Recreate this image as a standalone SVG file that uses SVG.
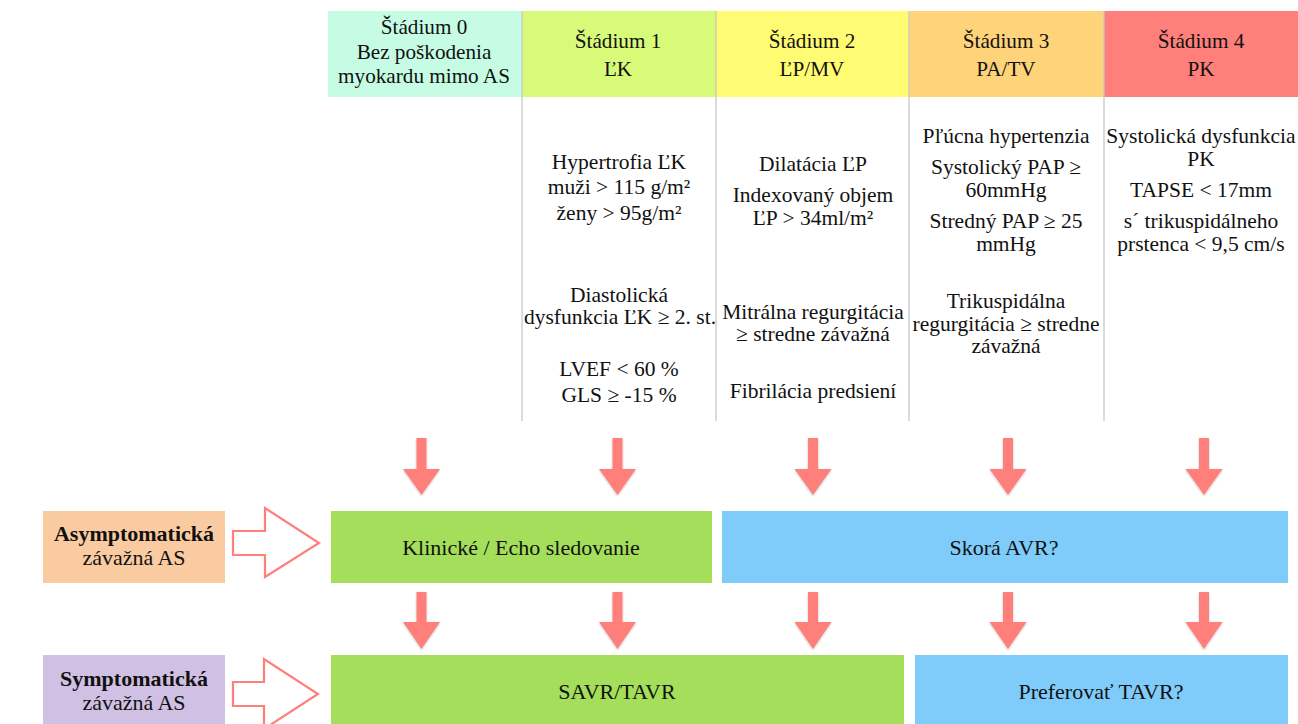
<svg xmlns="http://www.w3.org/2000/svg" width="1298" height="724" viewBox="0 0 1298 724">
<defs>
<style>
text{font-family:"Liberation Serif","Times New Roman",serif;fill:#111;text-anchor:middle}
.h{font-size:21.2px}
.b{font-size:21.5px}
.x{font-size:22px}
.bold{font-weight:bold}
.grid{stroke:#c8c8c8;stroke-width:1.3;fill:none}
.arr{fill:#FF7F7A}
.hollow{fill:#fff;stroke:#FF7F7A;stroke-width:2.2;stroke-linejoin:miter}
</style>
<filter id="sh" x="-50%" y="-20%" width="200%" height="150%">
<feGaussianBlur in="SourceAlpha" stdDeviation="1"/>
<feOffset dy="1" result="o"/>
<feComponentTransfer><feFuncA type="linear" slope="0.25"/></feComponentTransfer>
<feMerge><feMergeNode/><feMergeNode in="SourceGraphic"/></feMerge>
</filter>
</defs>
<rect width="1298" height="724" fill="#fff"/>

<g id="header">
<g id="stage0"><rect x="328" y="11" width="194" height="86" fill="#C5FCE3"/>
<text class="h" x="424" y="34">Štádium 0</text>
<text class="h" x="424" y="59">Bez poškodenia</text>
<text class="h" x="424" y="83">myokardu mimo AS</text></g>
<g id="stage1"><rect x="522" y="11" width="194" height="86" fill="#D8FA79"/>
<text class="h" x="618" y="48">Štádium 1</text>
<text class="h" x="618" y="76">ĽK</text></g>
<g id="stage2"><rect x="716" y="11" width="193" height="86" fill="#FFFB73"/>
<text class="h" x="812" y="48">Štádium 2</text>
<text class="h" x="812" y="76">ĽP/MV</text></g>
<g id="stage3"><rect x="909" y="11" width="195" height="86" fill="#FFD37A"/>
<text class="h" x="1006" y="48">Štádium 3</text>
<text class="h" x="1006" y="76">PA/TV</text></g>
<g id="stage4"><rect x="1104" y="11" width="194" height="86" fill="#FF7F7A"/>
<text class="h" x="1201" y="48">Štádium 4</text>
<text class="h" x="1201" y="76">PK</text></g>
</g>

<g id="grid">
<line class="grid" x1="522" y1="11" x2="522" y2="421"/>
<line class="grid" x1="716" y1="11" x2="716" y2="421"/>
<line class="grid" x1="909" y1="11" x2="909" y2="421"/>
<line class="grid" x1="1104" y1="11" x2="1104" y2="421"/>
</g>

<g id="col1">
<text class="b" x="619" y="169">Hypertrofia ĽK</text>
<text class="b" x="619" y="194">muži &gt; 115 g/m²</text>
<text class="b" x="619" y="220">ženy &gt; 95g/m²</text>
<text class="b" x="619" y="302">Diastolická</text>
<text class="b" x="620" y="324">dysfunkcia ĽK ≥ 2. st.</text>
<text class="b" x="619" y="376">LVEF &lt; 60 %</text>
<text class="b" x="619" y="402">GLS ≥ -15 %</text>
</g>
<g id="col2">
<text class="b" x="813" y="171">Dilatácia ĽP</text>
<text class="b" x="813" y="202">Indexovaný objem</text>
<text class="b" x="813" y="225">ĽP &gt; 34ml/m²</text>
<text class="b" x="813" y="319">Mitrálna regurgitácia</text>
<text class="b" x="813" y="341">≥ stredne závažná</text>
<text class="b" x="813" y="398">Fibrilácia predsiení</text>
</g>
<g id="col3">
<text class="b" x="1006" y="143">Pľúcna hypertenzia</text>
<text class="b" x="1006" y="174">Systolický PAP ≥</text>
<text class="b" x="1006" y="197">60mmHg</text>
<text class="b" x="1006" y="228">Stredný PAP ≥ 25</text>
<text class="b" x="1006" y="251">mmHg</text>
<text class="b" x="1006" y="308">Trikuspidálna</text>
<text class="b" x="1006" y="331">regurgitácia ≥ stredne</text>
<text class="b" x="1006" y="353">závažná</text>
</g>
<g id="col4">
<text class="b" x="1201" y="143">Systolická dysfunkcia</text>
<text class="b" x="1201" y="166">PK</text>
<text class="b" x="1201" y="197">TAPSE &lt; 17mm</text>
<text class="b" x="1201" y="228">s´ trikuspidálneho</text>
<text class="b" x="1201" y="251">prstenca &lt; 9,5 cm/s</text>
</g>

<g id="asym-label"><rect x="43" y="511" width="182" height="72" fill="#FACBA0"/>
<text class="x bold" x="134" y="541">Asymptomatická</text>
<text class="x" x="134" y="565">závažná AS</text></g>
<g id="sym-label"><rect x="43" y="655" width="182" height="69" fill="#D0C0E3"/>
<text class="x bold" x="134" y="686">Symptomatická</text>
<text class="x" x="134" y="710">závažná AS</text></g>

<g id="followup"><rect x="331" y="511" width="381" height="72" fill="#A4DE5A"/>
<text class="x" x="521" y="555">Klinické / Echo sledovanie</text></g>
<g id="early-avr"><rect x="722" y="511" width="566" height="72" fill="#7FCCFB"/>
<text class="x" x="1004" y="555">Skorá AVR?</text></g>
<g id="savr-tavr"><rect x="331" y="655" width="573" height="69" fill="#A4DE5A"/>
<text class="x" x="617" y="699">SAVR/TAVR</text></g>
<g id="prefer-tavr"><rect x="915" y="655" width="373" height="69" fill="#7FCCFB"/>
<text class="x" x="1101" y="699">Preferovať TAVR?</text></g>

<g id="connectors">
<g filter="url(#sh)" class="arr">
<path d="M416.5 438h10v31h13.5l-18.5 26l-18.5 -26h13.5z"/>
<path d="M612.5 438h10v31h13.5l-18.5 26l-18.5 -26h13.5z"/>
<path d="M808 438h10v31h13.5l-18.5 26l-18.5 -26h13.5z"/>
<path d="M1003 438h10v31h13.5l-18.5 26l-18.5 -26h13.5z"/>
<path d="M1199 438h10v31h13.5l-18.5 26l-18.5 -26h13.5z"/>
<path d="M416.5 592h10v30h13.5l-18.5 27l-18.5 -27h13.5z"/>
<path d="M612.5 592h10v30h13.5l-18.5 27l-18.5 -27h13.5z"/>
<path d="M808 592h10v30h13.5l-18.5 27l-18.5 -27h13.5z"/>
<path d="M1003 592h10v30h13.5l-18.5 27l-18.5 -27h13.5z"/>
<path d="M1199 592h10v30h13.5l-18.5 27l-18.5 -27h13.5z"/>
</g>
<path class="hollow" d="M233 531H265V508L319 543L265 577V555H233Z"/>
<path class="hollow" d="M233 682H264V659L318 694L264 729V706H233Z"/>
</g>
</svg>
